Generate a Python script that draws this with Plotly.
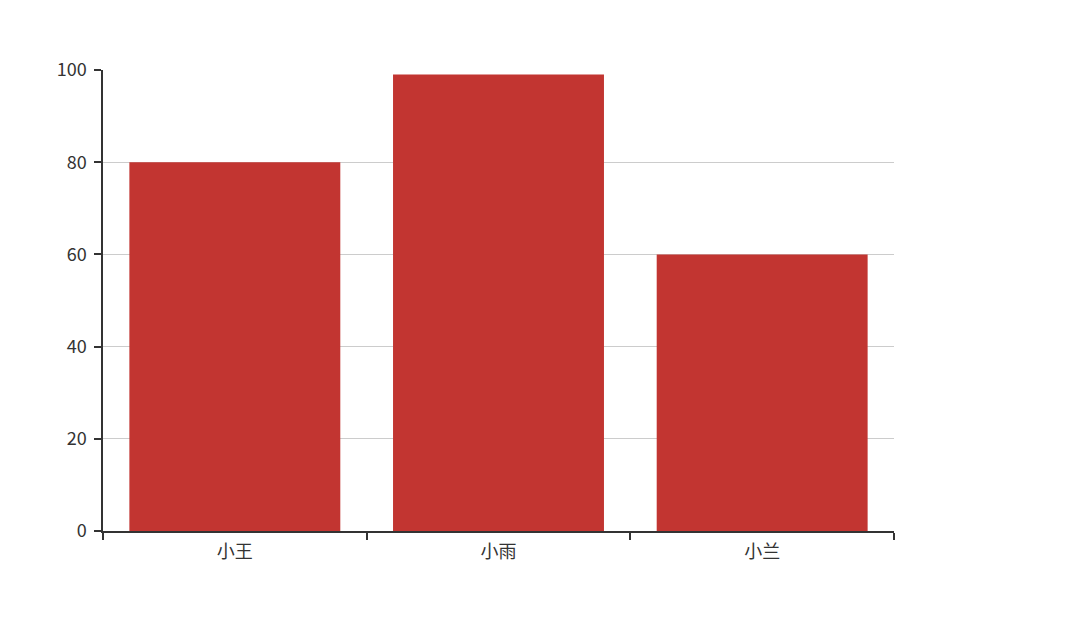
import plotly.graph_objects as go

categories = ["小王", "小雨", "小兰"]
scores = [80, 99, 60]

fig = go.Figure(go.Bar(x=categories, y=scores, marker=dict(color="#c23531", line=dict(width=0))))

axis_font = dict(family="Noto Sans CJK SC, Microsoft YaHei, sans-serif", size=18, color="#333")

fig.update_layout(
    width=1084, height=637,
    margin=dict(l=95, r=198, t=62, b=114, autoexpand=False),
    plot_bgcolor="white", paper_bgcolor="white",
    bargap=0.2,
    showlegend=False,
    xaxis=dict(
        type="category", tickson="boundaries", ticks="outside", ticklen=7,
        tickcolor="#333", tickwidth=1.5, showline=True, linecolor="#333", linewidth=1.5,
        showgrid=False, tickfont=axis_font, zeroline=False, ticklabelstandoff=4,
    ),
    yaxis=dict(
        range=[0, 100], tickvals=[0, 20, 40, 60, 80, 100], ticks="outside", ticklen=7,
        tickcolor="#333", tickwidth=1.5, showline=True, linecolor="#333", linewidth=1.5,
        showgrid=True, gridcolor="#ccc", gridwidth=1.2, tickfont=axis_font, zeroline=False,
        ticklabelstandoff=4,
    ),
)

fig.write_html("out.html")
